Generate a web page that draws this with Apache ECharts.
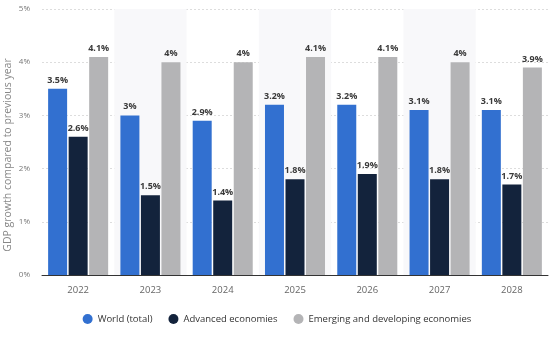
<!DOCTYPE html>
<html><head><meta charset="utf-8">
<script src="https://cdn.jsdelivr.net/npm/echarts@6/dist/echarts.min.js"></script>
<style>html,body{margin:0;padding:0;background:#fff}#c{width:554px;height:339px}</style>
</head><body><div id="c"></div>
<script>
const categories = ['2022','2023','2024','2025','2026','2027','2028'];
const world = [3.5, 3.0, 2.9, 3.2, 3.2, 3.1, 3.1];
const advanced = [2.6, 1.5, 1.4, 1.8, 1.9, 1.8, 1.7];
const emerging = [4.1, 4.0, 4.0, 4.1, 4.1, 4.0, 3.9];
const seriesNames = ['World (total)', 'Advanced economies', 'Emerging and developing economies'];
const yTicks = [0, 1, 2, 3, 4, 5];
const yTitle = 'GDP growth compared to previous year';

const font = 'Open Sans';
const chart = echarts.init(document.getElementById('c'));
const lbl = {show: true, position: 'top', distance: 4, fontSize: 9, fontWeight: 'bold', color: '#3a3a3a', fontFamily: font,
  formatter: p => p.value + '%'};
function mk(name, data, color) {
  return {name, type: 'bar', data, barWidth: 19, barGap: '8%', itemStyle: {color}, label: lbl};
}
chart.setOption({
  animation: false,
  textStyle: {fontFamily: font},
  grid: {left: 42, right: 6, top: 9, bottom: 64, containLabel: false, outerBoundsMode: 'none'},
  legend: {bottom: 10, left: 'center', icon: 'circle', itemWidth: 10, itemHeight: 10, itemGap: 16,
    textStyle: {fontSize: 9.5, color: '#333', fontFamily: font}},
  graphic: [{type: 'text', x: 8, y: 155, rotation: Math.PI / 2,
    style: {text: yTitle, fill: '#888', font: '10.5px "Open Sans"', align: 'center', verticalAlign: 'middle'}}],
  xAxis: {type: 'category', data: categories,
    axisLine: {lineStyle: {color: '#333'}}, axisTick: {show: false},
    axisLabel: {color: '#666', fontSize: 9.5, margin: 10, fontFamily: font},
    splitArea: {show: true, areaStyle: {color: ['rgba(255,255,255,0)', '#f8f8fa']}}},
  yAxis: {type: 'value', min: yTicks[0], max: yTicks[yTicks.length-1], interval: 1,
    axisLabel: {formatter: v => v + '%', color: '#777', fontSize: 8, margin: 12},
    splitLine: {lineStyle: {color: '#ddd', type: [2, 2]}}},
  series: [mk(seriesNames[0], world, '#3270d0'), mk(seriesNames[1], advanced, '#13233c'), mk(seriesNames[2], emerging, '#b4b4b6')]
});
</script></body></html>
